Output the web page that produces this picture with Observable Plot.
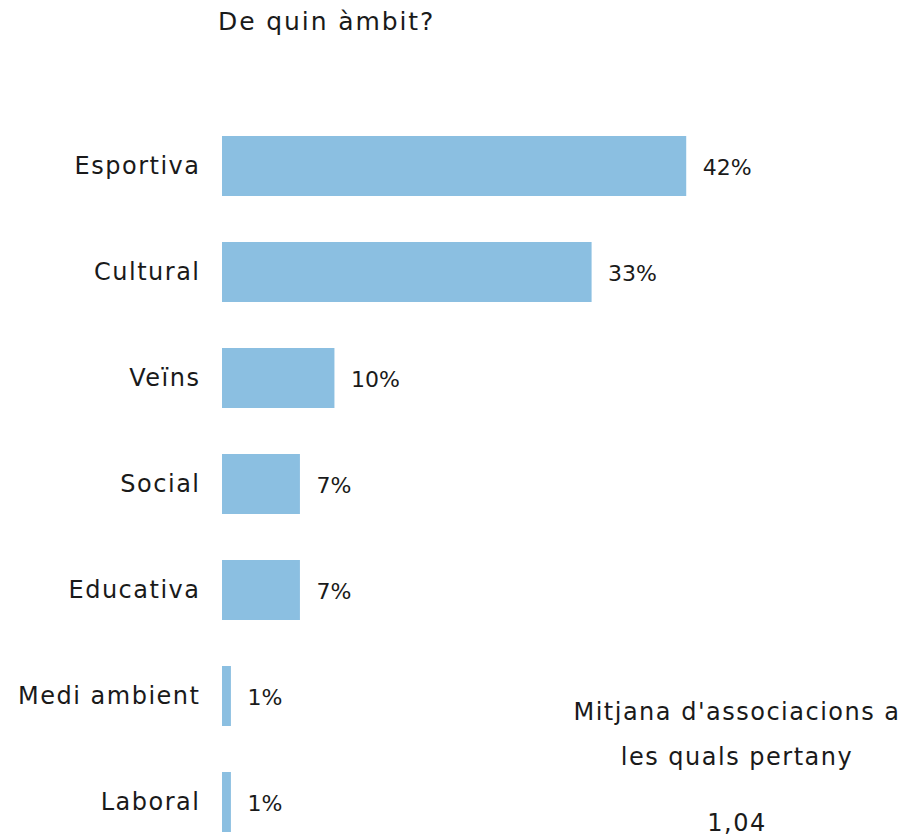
<!DOCTYPE html>
<html>
<head>
<meta charset="utf-8">
<script src="https://cdn.jsdelivr.net/npm/d3@7"></script>
<script src="https://cdn.jsdelivr.net/npm/@observablehq/plot@0.6"></script>
<style>
  html, body { margin: 0; padding: 0; background: #fff; }
  #wrap { position: relative; width: 920px; height: 837px; font-family: "DejaVu Sans", sans-serif; color: #1a1a1a; }
  #title { position: absolute; left: 218px; top: 7px; font-size: 25px; letter-spacing: 1.9px; white-space: nowrap; }
  #chart { position: absolute; left: 0; top: 0; }
  .note { position: absolute; width: 400px; left: 537px; text-align: center; font-size: 24px; letter-spacing: 1.5px; white-space: nowrap; line-height: 28px; }
  .cat text { letter-spacing: 1.5px; }
</style>
</head>
<body>
<div id="wrap">
  <div id="chart"></div>
  <div id="title"></div>
</div>
<script>
const title = "De quin àmbit?";
const categories = ["Esportiva", "Cultural", "Veïns", "Social", "Educativa", "Medi ambient", "Laboral"];
const values = [41.7, 33.2, 10.1, 7.0, 7.0, 0.8, 0.8];
const valueLabels = ["42%", "33%", "10%", "7%", "7%", "1%", "1%"];
const noteLines = ["Mitjana d'associacions a", "les quals pertany", "1,04"];

const data = categories.map((c, i) => ({category: c, value: values[i], label: valueLabels[i]}));

document.getElementById("title").textContent = title;

const chart = Plot.plot({
  width: 920,
  height: 837,
  marginLeft: 222,
  marginRight: 0,
  marginTop: 131,
  marginBottom: 0,
  style: {fontFamily: "DejaVu Sans, sans-serif", fontSize: "22px", color: "#1a1a1a", background: "transparent"},
  x: {domain: [0, 62.7], axis: null},
  y: {domain: categories, paddingInner: 0.437, paddingOuter: 0.03, label: null},
  marks: [
    Plot.barX(data, {x: "value", y: "category", fill: "#8BBFE1"}),
    Plot.text(data, {x: "value", y: "category", text: "label", textAnchor: "start", dx: 16, dy: 1, fill: "#1a1a1a", fontSize: 22}),
    Plot.axisY({tickSize: 0, tickPadding: 22, fontSize: 24, label: null, fill: "#1a1a1a", className: "cat"})
  ]
});
document.getElementById("chart").appendChild(chart);

const noteTops = [698, 743, 809];
noteLines.forEach((t, i) => {
  const d = document.createElement("div");
  d.className = "note";
  d.style.top = noteTops[i] + "px";
  d.textContent = t;
  document.getElementById("wrap").appendChild(d);
});
</script>
</body>
</html>
